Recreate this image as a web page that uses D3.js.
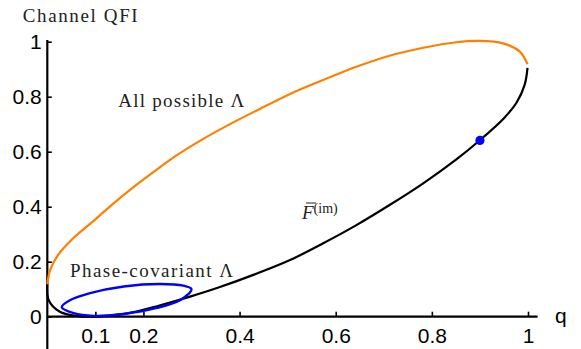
<!DOCTYPE html>
<html>
<head>
<meta charset="utf-8">
<script src="https://d3js.org/d3.v7.min.js"></script>
<style>
  body { margin: 0; background: #fff; }
  svg { display: block; }
  .tick text { font-family: "Liberation Sans", Arial, sans-serif; font-size: 21px; fill: #000; }
  .lbl { font-family: "Liberation Serif", "DejaVu Serif", serif; font-size: 19px; fill: #222; }
</style>
</head>
<body>
<svg id="chart" width="581" height="349"></svg>
<script>
// curve samples, [q, QFI]
var allPossible = [
  [0.000, 0.118], [0.006, 0.170], [0.023, 0.226], [0.055, 0.287], [0.092, 0.342],
  [0.130, 0.400], [0.172, 0.461], [0.217, 0.521], [0.265, 0.582], [0.321, 0.643],
  [0.383, 0.703], [0.452, 0.764], [0.515, 0.818], [0.574, 0.861], [0.643, 0.909],
  [0.712, 0.949], [0.782, 0.978], [0.851, 0.998], [0.900, 1.003], [0.948, 0.994],
  [0.983, 0.964], [0.999, 0.918]
];
var fImaginary = [
  [0.000, 0.118], [0.003, 0.060], [0.026, 0.018], [0.060, 0.003], [0.100, 0.000],
  [0.160, 0.010], [0.230, 0.039], [0.297, 0.073], [0.356, 0.106], [0.430, 0.153],
  [0.505, 0.206], [0.574, 0.267], [0.643, 0.333], [0.712, 0.406], [0.782, 0.485],
  [0.851, 0.572], [0.898, 0.639], [0.950, 0.722], [0.976, 0.778], [0.993, 0.843],
  [0.999, 0.905]
];
var phaseCovariant = [
  [0.030, 0.035], [0.055, 0.013], [0.096, 0.003], [0.159, 0.010], [0.228, 0.032],
  [0.277, 0.061], [0.300, 0.100], [0.283, 0.113], [0.235, 0.119], [0.159, 0.110],
  [0.089, 0.086], [0.048, 0.061]
];
var marker = [[0.9, 0.641]];
var xTicks = [0.1, 0.2, 0.4, 0.6, 0.8, 1];
var xTickLabels = ["0.1", "0.2", "0.4", "0.6", "0.8", "1"];
var yTicks = [0, 0.2, 0.4, 0.6, 0.8, 1];
var yTickLabels = ["0", "0.2", "0.4", "0.6", "0.8", "1"];

var svg = d3.select("#chart");
var x = d3.scaleLinear().domain([0, 1]).range([47.3, 528]);
var y = d3.scaleLinear().domain([0, 1]).range([316.7, 41.7]);

// axes (Mathematica style, ticks pointing inward)
var xAxis = svg.append("g")
  .attr("transform", "translate(0," + y(0) + ")")
  .call(d3.axisBottom(x).tickValues(xTicks)
    .tickFormat(function(d, i) { return xTickLabels[i]; })
    .tickSizeInner(-5).tickSizeOuter(0).tickPadding(11));
xAxis.select(".domain").remove();
xAxis.selectAll(".tick line").attr("stroke-width", 1.6);

var yAxis = svg.append("g")
  .attr("transform", "translate(" + x(0) + ",0)")
  .call(d3.axisLeft(y).tickValues(yTicks)
    .tickFormat(function(d, i) { return yTickLabels[i]; })
    .tickSizeInner(-4.5).tickSizeOuter(0).tickPadding(5.5));
yAxis.select(".domain").remove();
yAxis.selectAll(".tick line").attr("stroke-width", 1.6);

svg.append("line")
  .attr("x1", x(0)).attr("x2", x(1.02))
  .attr("y1", y(0)).attr("y2", y(0))
  .attr("stroke", "#000").attr("stroke-width", 2.2);
svg.append("line")
  .attr("x1", x(0)).attr("x2", x(0))
  .attr("y1", y(-0.12)).attr("y2", y(1.006))
  .attr("stroke", "#000").attr("stroke-width", 2.2);

// curves
var line = d3.line()
  .x(function(d) { return x(d[0]); })
  .y(function(d) { return y(d[1]); })
  .curve(d3.curveCatmullRom.alpha(0.5));

svg.append("path").datum(fImaginary)
  .attr("d", line).attr("fill", "none")
  .attr("stroke", "#000").attr("stroke-width", 2.2);

svg.append("path").datum(allPossible)
  .attr("d", line).attr("fill", "none")
  .attr("stroke", "#ff8000").attr("stroke-width", 2.2);

svg.append("path").datum(phaseCovariant)
  .attr("d", line.curve(d3.curveCatmullRomClosed.alpha(0.5)))
  .attr("fill", "none")
  .attr("stroke", "#0000ff").attr("stroke-width", 2.4);

svg.selectAll(".dot").data(marker).enter().append("circle")
  .attr("class", "dot")
  .attr("cx", function(d) { return x(d[0]); })
  .attr("cy", function(d) { return y(d[1]); })
  .attr("r", 4.6).attr("fill", "#0000ff");

// labels
svg.append("text").attr("class", "lbl")
  .attr("x", 22.7).attr("y", 22)
  .attr("textLength", 115).text("Channel QFI");

svg.append("text").attr("class", "lbl")
  .attr("x", 118.3).attr("y", 107)
  .attr("textLength", 126).text("All possible Λ");

svg.append("text").attr("class", "lbl")
  .attr("x", 70).attr("y", 276.7)
  .attr("textLength", 163).text("Phase-covariant Λ");

svg.append("text")
  .attr("x", 555).attr("y", 323)
  .style("font-family", "Liberation Sans, Arial, sans-serif")
  .style("font-size", "21px")
  .text("q");

// F-bar with superscript (im)
var fl = svg.append("text").attr("class", "lbl").attr("x", 302).attr("y", 219);
fl.append("tspan").style("font-style", "italic").text("F");
fl.append("tspan").attr("dy", -6).style("font-size", "14px").text("(im)");
svg.append("line")
  .attr("x1", 306).attr("x2", 316).attr("y1", 203).attr("y2", 203)
  .attr("stroke", "#222").attr("stroke-width", 1);
</script>
</body>
</html>
